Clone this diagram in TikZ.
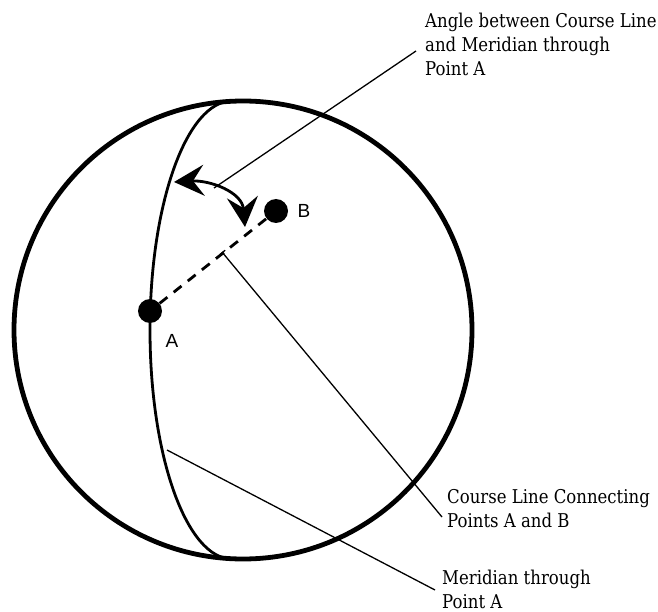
\documentclass[tikz,border=0pt]{standalone}
\usepackage{fontspec}
\setmainfont[FakeStretch=0.87]{DejaVu Serif}
\newfontfamily\lblfont{Liberation Sans}
\usetikzlibrary{arrows.meta}
\begin{document}
\begin{tikzpicture}[x=1pt,y=-1pt,
  globe/.style={line width=4.8pt},
  merid/.style={line width=2.8pt},
  dot/.style={circle,fill=black,inner sep=0pt,minimum size=24pt},
  ptlabel/.style={font=\lblfont\fontsize{19}{21}\selectfont,inner sep=0pt},
  callout/.style={font=\fontsize{19}{24}\selectfont,align=left,anchor=north west,inner sep=0pt},
  leader/.style={line width=1.3pt},
  course/.style={line width=2.8pt,dash pattern=on 10pt off 8pt},
  anglearrow/.style={line width=2.8pt,{Stealth[length=30pt,width=31pt,inset=11pt]}-{Stealth[length=30pt,width=31pt,inset=11pt]}}
]
\useasboundingbox (0,0) rectangle (658,612);
% globe
\draw[globe] (243,330) circle[radius=229pt];
% meridian (half ellipse)
\draw[merid] (232,101) arc[start angle=90,end angle=270,x radius=82pt,y radius=229pt];
% points
\node[dot] (A) at (150,311) {};
\node[dot] (B) at (276,211) {};
\node[ptlabel] (Alab) at (172,341) {A};
\node[ptlabel] (Blab) at (304,211) {B};
% course line
\draw[course] (A) -- (B);
% angle arrow
\coordinate (angL) at (174,182);
\coordinate (angR) at (245,227);
\draw[anglearrow] (angL) .. controls (210,180) and (242,192) .. (angR);
% callouts
\node[callout] (t1) at (425,13) {Angle between Course Line\\and Meridian through\\Point A};
\node[callout] (t2) at (447,489) {Course Line Connecting\\Points A and B};
\node[callout] (t3) at (442,570) {Meridian through\\Point A};
% leaders
\coordinate (l1s) at (214,188);
\coordinate (l1e) at (416,51);
\draw[leader] (l1s) -- (l1e);
\coordinate (l2s) at (222,252);
\coordinate (l2e) at (442,517);
\draw[leader,{Bar[width=7pt]}-] (l2s) -- (l2e);
\coordinate (l3s) at (167,450);
\coordinate (l3e) at (435,590);
\draw[leader] (l3s) -- (l3e);
\end{tikzpicture}
\end{document}
